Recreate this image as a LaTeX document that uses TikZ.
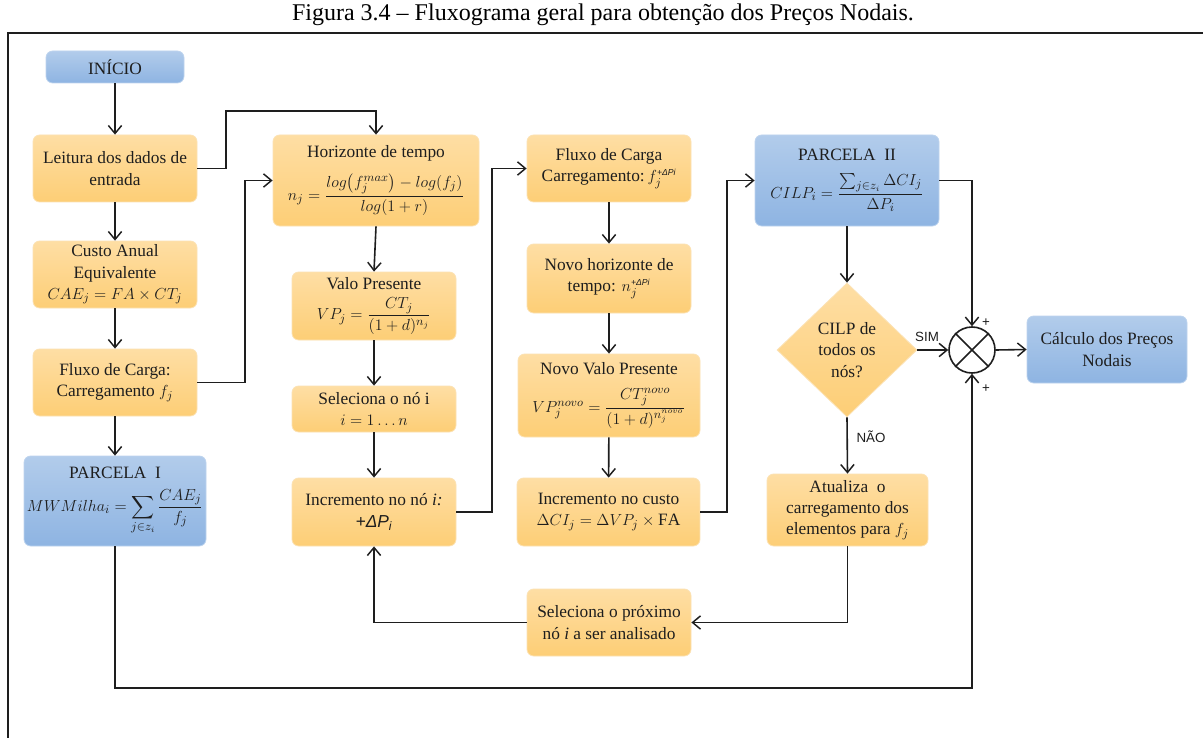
\documentclass[tikz,border=0pt]{standalone}
\usepackage{amsmath}
\usepackage{fontspec}
\setmainfont{Liberation Serif}
\setsansfont{Liberation Sans}
\usetikzlibrary{arrows.meta,shapes.geometric,calc}

\definecolor{orTop}{RGB}{254,222,164}
\definecolor{orBot}{RGB}{253,206,118}
\definecolor{orEdge}{RGB}{252,226,180}
\definecolor{buTop}{RGB}{178,204,235}
\definecolor{buBot}{RGB}{142,180,226}
\definecolor{buEdge}{RGB}{190,212,238}
\definecolor{ink}{RGB}{30,30,30}

% small sans superscript used for the load increment
\newcommand{\supDP}{\mbox{\fontsize{6.5}{7}\selectfont\sffamily\itshape +ΔPi}}

\begin{document}
\begin{tikzpicture}[x=0.75pt,y=-0.75pt,
  sz/.style 2 args={minimum width=#1*0.75pt, minimum height=#2*0.75pt},
  basebox/.style={rectangle, rounded corners=5pt, align=center, inner sep=1pt,
    text=ink, font=\fontsize{13}{16}\selectfont, line width=0.6pt},
  orbox/.style={basebox, top color=orTop, bottom color=orBot, draw=orEdge},
  bubox/.style={basebox, top color=buTop, bottom color=buBot, draw=buEdge},
  conn/.style={draw=ink, line width=1.2pt},
  arr/.style={conn, -{Straight Barb[length=6pt,width=10pt,line width=1.1pt]}},
  lab/.style={font=\fontsize{10}{12}\selectfont\sffamily, text=ink, inner sep=1pt},
  pluslab/.style={font=\fontsize{10}{11}\selectfont\sffamily, text=ink, inner sep=0pt}
]
% page area and frame
\fill[white] (0,0) rectangle (1203,738);
\useasboundingbox (0,0) rectangle (1203,738);
\draw[line width=1.1pt, draw=ink] (8,738) -- (8,33) -- (1203,33);

\node[text=black, inner sep=0pt, font=\fontsize{18}{20}\selectfont] (title) at (603,15)
  {Figura 3.4 – Fluxograma geral para obtenção dos Preços Nodais.};

% first column
\node[bubox, sz={138}{32}] (ini) at (115,67) {INÍCIO};
\node[orbox, sz={164}{67}] (lei) at (115,168.5) {Leitura dos dados de\\entrada};
\node[orbox, sz={164}{67}] (cae) at (115,274.5) {Custo Anual\\Equivalente\\$CAE_j = FA \times CT_j$};
\node[orbox, sz={164}{67}] (flx) at (115,382.5) {Fluxo de Carga:\\Carregamento $f_j$};
\node[bubox, sz={182}{90}] (p1) at (115,501)
  {PARCELA\ \ I\\[7pt]$MWMilha_i = \displaystyle\sum_{j\in z_i}\frac{CAE_j}{f_j}$};

% second column
\node[orbox, sz={206}{91}] (hor) at (376,180.5)
  {Horizonte de tempo\\[8pt]$n_j = \dfrac{log\bigl(f_j^{max}\bigr) - log(f_j)}{log(1+r)}$};
\node[orbox, sz={164}{68}] (vp) at (374,306)
  {Valo Presente\\[5pt]$VP_j = \dfrac{CT_j}{(1+d)^{n_j}}$};
\node[orbox, sz={164}{46}] (sel) at (374,409) {Seleciona o nó i\\$i = 1 \ldots n$};
\node[orbox, sz={164}{68}] (inc) at (374,512)
  {Incremento no nó \textit{i:}\\{\sffamily\itshape +ΔP\textsubscript{i}}};

% third column
\node[orbox, sz={164}{67}] (flc) at (609,168.5) {Fluxo de Carga\\Carregamento:\,$f_j^{\supDP}$};
\node[orbox, sz={164}{69}] (nho) at (609,278.5) {Novo horizonte de\\tempo: $n_j^{\supDP}$};
\node[orbox, sz={182}{83}] (nvp) at (609,395.5)
  {Novo Valo Presente\\[9pt]$VP_j^{novo} = \dfrac{CT_j^{novo}}{(1+d)^{n_j^{novo}}}$};
\node[orbox, sz={183}{68}] (icu) at (608.5,512)
  {Incremento no custo\\$\Delta CI_j = \Delta VP_j \times \mathrm{FA}$};
\node[orbox, sz={164}{67}] (prx) at (609,622.5) {Seleciona o próximo\\nó \textit{i} a ser analisado};

% fourth column
\node[bubox, sz={184}{91}] (p2) at (847,180.5)
  {PARCELA\ \ II\\[8pt]$CILP_i = \dfrac{\sum_{j\in z_i}\Delta CI_j}{\Delta P_i}$};
\node[diamond, top color=orTop, bottom color=orBot, draw=orEdge, line width=0.6pt,
  sz={140}{134}, inner sep=0pt, align=center, text=ink,
  font=\fontsize{13}{16}\selectfont] (dec) at (847,350) {CILP de\\todos os\\nós?};
\node[orbox, sz={161}{72}] (atu) at (847.5,510) {Atualiza\ \ o\\carregamento dos\\elementos para $f_j$};

% summing junction and result
\node[circle, draw=ink, line width=1.2pt, minimum size=46*0.75pt, inner sep=0pt, fill=white] (sum) at (972,350) {};
\draw[conn] (sum.north east) -- (sum.south west);
\draw[conn] (sum.north west) -- (sum.south east);
\node[bubox, sz={160}{67}] (cal) at (1107,349.5) {Cálculo dos Preços\\Nodais};

% connectors
\draw[arr] (ini) -- (lei);
\draw[arr] (lei) -- (cae);
\draw[arr] (cae) -- (flx);
\draw[arr] (flx) -- (p1);
\draw[arr] (lei.east) -| (226,111) -| (hor.north);
\draw[arr] (flx.east) -- (245,382.5) |- (hor.west);
\draw[arr] (hor.south) -- (vp.north);
\draw[arr] (vp) -- (sel);
\draw[arr] (sel) -- (inc);
\draw[arr] (inc.east) -- (492,512) |- (flc.west);
\draw[arr] (flc) -- (nho);
\draw[arr] (nho) -- (nvp);
\draw[arr] (nvp) -- (icu);
\draw[arr] (icu.east) -- (727,512) |- (p2.west);
\draw[arr] (p2.east) -| (sum.north);
\draw[arr] (p2.south) -- (dec.north);
\draw[arr] (dec.east) -- (sum.west);
\draw[arr] (dec.south) -- (atu.north);
\draw[arr] (atu.south) |- (prx.east);
\draw[arr] (prx.west) -| (inc.south);
\draw[arr] (p1.south) -- (115,688) -| (sum.south);
\draw[arr] (sum.east) -- (cal.west);

% branch labels
\node[lab] (sim) at (927,337) {SIM};
\node[lab] (nao) at (871,437) {NÃO};
\node[pluslab] (pl1) at (986,323) {+};
\node[pluslab] (pl2) at (986,389) {+};
\end{tikzpicture}
\end{document}
